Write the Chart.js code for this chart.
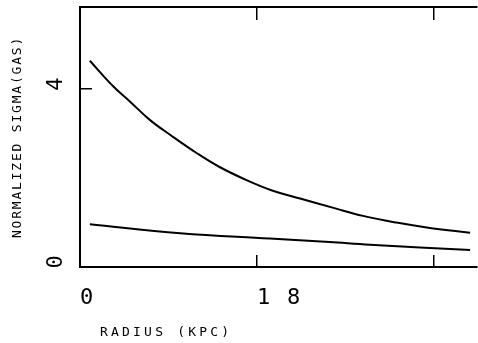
<!DOCTYPE html>
<html><head><meta charset="utf-8">
<script src="https://cdn.jsdelivr.net/npm/chart.js@4"></script>
<style>html,body{margin:0;padding:0;background:#fff}#wrap{width:478px;height:343px}</style>
</head><body><div id="wrap"><canvas id="c"></canvas></div>
<script>
const radiusUpper = [1.0, 3.4, 5.1, 7.1, 9.2, 11.9, 14.2, 17.0, 19.7, 22.4, 25.8, 28.8, 32.2, 35.6, 39.7];
const sigmaUpper  = [4.64, 4.06, 3.72, 3.31, 2.97, 2.56, 2.25, 1.95, 1.71, 1.54, 1.33, 1.15, 1.00, 0.88, 0.77];
const radiusLower = [1.0, 10.2, 19.3, 25.4, 29.5, 39.7];
const sigmaLower  = [0.96, 0.76, 0.64, 0.56, 0.50, 0.38];
const xTicks = [0, 18, 36];
const xTickLabels = ['0', '1 8', ''];
const yTicks = [0, 4];
const yTickLabels = ['0', '4'];
const xTitle = 'RADIUS (KPC)';
const yTitle = 'NORMALIZED SIGMA(GAS)';

const MONO = "'DejaVu Sans Mono', 'Liberation Mono', monospace";
const toPts = (xs, ys) => xs.map((x, i) => ({x, y: ys[i]}));

const textPlugin = {
  id: 'textPlugin',
  beforeDraw(chart) { chart.ctx.letterSpacing = '1.8px'; },
  afterDraw(chart) {
    const ctx = chart.ctx;
    const ys = chart.scales.y;
    ctx.save();
    ctx.fillStyle = '#000';
    ctx.font = '22px ' + MONO;
    ctx.letterSpacing = '0px';
    ctx.textAlign = 'center';
    ctx.textBaseline = 'middle';
    yTicks.forEach((v, i) => {
      const py = ys.getPixelForValue(v);
      ctx.save();
      ctx.translate(55.5, py - 5);
      ctx.rotate(-Math.PI / 2);
      ctx.fillText(yTickLabels[i], 0, 1);
      ctx.restore();
    });
    ctx.font = '13px ' + MONO;
    ctx.letterSpacing = '3.2px';
    ctx.textAlign = 'left';
    ctx.fillText(xTitle, chart.chartArea.left + 20, 333);
    ctx.restore();
  }
};

new Chart(document.getElementById('c'), {
  type: 'line',
  data: {
    datasets: [
      { data: toPts(radiusUpper, sigmaUpper), borderColor: '#000', borderWidth: 2, pointRadius: 0, tension: 0.4, fill: false },
      { data: toPts(radiusLower, sigmaLower), borderColor: '#000', borderWidth: 2, pointRadius: 0, tension: 0.4, fill: false }
    ]
  },
  options: {
    responsive: true,
    maintainAspectRatio: false,
    animation: false,
    events: [],
    layout: { padding: { right: 1, left: 0, top: 0, bottom: 0 } },
    plugins: { legend: { display: false }, tooltip: { enabled: false } },
    scales: {
      x: {
        type: 'linear', position: 'bottom', min: 0, max: 40.4,
        afterBuildTicks: s => { s.ticks = xTicks.map(v => ({value: v})); },
        afterFit: s => { s.height = 76; },
        border: { display: true, color: '#000', width: 2 },
        grid: { drawOnChartArea: false, drawTicks: true, tickLength: -12, color: '#000', lineWidth: 1.5 },
        ticks: {
          autoSkip: false, maxRotation: 0, minRotation: 0, align: 'start', padding: 30,
          color: '#000', font: { family: MONO, size: 22 },
          callback: (v) => { const i = xTicks.indexOf(v); return i >= 0 ? xTickLabels[i] : ''; }
        }
      },
      x2: {
        type: 'linear', position: 'top', min: 0, max: 40.4,
        afterBuildTicks: s => { s.ticks = xTicks.map(v => ({value: v})); },
        afterFit: s => { s.height = 7; },
        border: { display: true, color: '#000', width: 2 },
        grid: { drawOnChartArea: false, drawTicks: true, tickLength: -13, color: '#000', lineWidth: 1.5 },
        ticks: { display: false }
      },
      y: {
        type: 'linear', position: 'left', min: 0, max: 5.85,
        afterBuildTicks: s => { s.ticks = yTicks.map(v => ({value: v})); },
        afterFit: s => { s.width = 80; },
        border: { display: true, color: '#000', width: 2 },
        grid: { drawOnChartArea: false, drawTicks: true, tickLength: -12, color: '#000', lineWidth: 1.5 },
        ticks: { display: false },
        title: { display: true, text: yTitle, color: '#000', font: { family: MONO, size: 13 }, padding: { top: 10, bottom: 0 } }
      }
    }
  },
  plugins: [textPlugin]
});
</script>
</body></html>
